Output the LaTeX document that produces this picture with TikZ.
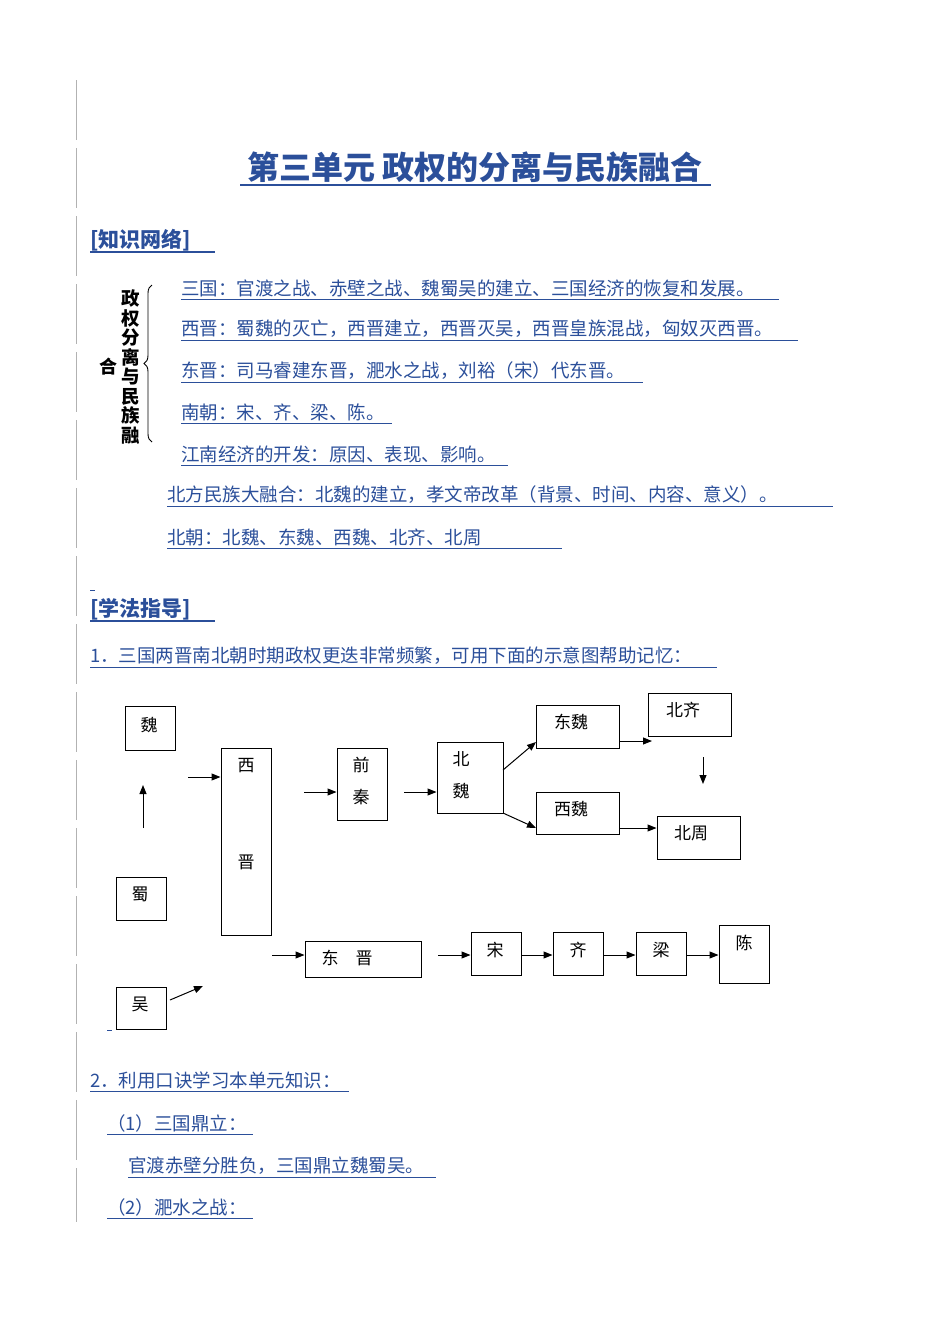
\documentclass[tikz,border=0pt]{standalone}
\usepackage{fontspec}
\newfontfamily\cjk{Noto Sans CJK SC}
\usetikzlibrary{decorations.pathreplacing,arrows.meta}
\definecolor{lb}{HTML}{2B4F9A}
\begin{document}
\begin{tikzpicture}[x=1pt,y=-1pt,
 bx/.style={draw,line width=1pt,font=\cjk\fontsize{17}{17}\selectfont},
 ar/.style={-{Triangle[length=9pt,width=7pt]},line width=1pt},
 tx/.style={anchor=west,inner sep=0,text=lb,font=\cjk\fontsize{18.5}{19}\selectfont},
 ul/.style={lb,line width=0.8pt}]
\useasboundingbox (0,0) rectangle (950,1342);
\draw[gray!60,dashed,dash pattern=on 60pt off 8pt] (76,80) -- (76,1222);
% title
\node[inner sep=0,text=lb,font=\cjk\bfseries\fontsize{32}{32}\selectfont] (t) at (475,167) {第三单元 政权的分离与民族融合};
\draw[ul,line width=1.2pt] (240,185) -- (711,185);
\node[tx,font=\cjk\bfseries\fontsize{21}{21}\selectfont] (h1) at (90,240) {[知识网络]};
\draw[ul,line width=1.2pt] (90,252) -- (215,252);
\foreach \y/\x/\e/\s in {288/181/779/三国：官渡之战、赤壁之战、魏蜀吴的建立、三国经济的恢复和发展。,
 329/181/798/西晋：蜀魏的灭亡，西晋建立，西晋灭吴，西晋皇族混战，匈奴灭西晋。,
 371/181/643/东晋：司马睿建东晋，淝水之战，刘裕（宋）代东晋。,
 412/181/392/南朝：宋、齐、梁、陈。,
 454/181/508/江南经济的开发：原因、表现、影响。,
 495/167/833/北方民族大融合：北魏的建立，孝文帝改革（背景、时间、内容、意义）。,
 537/167/562/北朝：北魏、东魏、西魏、北齐、北周,
 656/90/717/1．三国两晋南北朝时期政权更迭非常频繁，可用下面的示意图帮助记忆：,
 1080/90/349/2．利用口诀学习本单元知识：,
 1123/107/253/（1）三国鼎立：,
 1166/128/436/官渡赤壁分胜负，三国鼎立魏蜀吴。,
 1207/107/253/（2）淝水之战：}
 {\node[tx] at (\x,\y) {\s}; \draw[ul] (\x,\y+11) -- (\e,\y+11);}
\node[inner sep=0,align=center,font=\cjk\bfseries\fontsize{18.5}{19.5}\selectfont] (v) at (131,367) {政\\权\\分\\离\\与\\民\\族\\融};
\node[inner sep=0,font=\cjk\bfseries\fontsize{18}{18}\selectfont] (he) at (108,367) {合};
\draw[line width=0.9pt,decorate,decoration={brace,amplitude=8pt}] (152,442) -- (152,285);
\draw[ul] (90,590) -- (95,590);
\node[tx,font=\cjk\bfseries\fontsize{21}{21}\selectfont] (h2) at (90,609) {[学法指导]};
\draw[ul,line width=1.2pt] (90,621) -- (215,621);
\draw[ul] (107,1030) -- (112,1030);
% boxes
\newcommand\bxx[6]{\node[bx,minimum width=#3-#2,minimum height=#5-#4,inner sep=0] (#1) at ({(#2+#3)/2},{(#4+#5)/2}) {}; \node[font=\cjk\fontsize{17}{17}\selectfont,inner sep=0] at #6;}
\bxx{wei}{125}{175}{706}{750}{(149,725) {魏}}
\bxx{xj}{221}{271}{748}{935}{(246,766) {西}}
\node[font=\cjk\fontsize{17}{17}\selectfont,inner sep=0] at (246,862) {晋};
\bxx{qq}{337}{387}{748}{820}{(361,765) {前}}
\node[font=\cjk\fontsize{17}{17}\selectfont,inner sep=0] at (361,797) {秦};
\bxx{bw}{437}{503}{742}{813}{(461,759) {北}}
\node[font=\cjk\fontsize{17}{17}\selectfont,inner sep=0] at (461,791) {魏};
\bxx{dw}{536}{619}{705}{748}{(571,722) {东魏}}
\bxx{bq}{648}{731}{693}{736}{(683,710) {北齐}}
\bxx{xw}{536}{619}{792}{834}{(571,809) {西魏}}
\bxx{bz}{657}{740}{816}{859}{(691,833) {北周}}
\bxx{shu}{116}{166}{877}{920}{(140,894) {蜀}}
\bxx{wu}{116}{166}{987}{1029}{(140,1004) {吴}}
\bxx{dj}{305}{421}{941}{977}{(347,958) {东\quad 晋}}
\bxx{song}{471}{521}{932}{975}{(495,950) {宋}}
\bxx{qi}{553}{603}{932}{975}{(578,950) {齐}}
\bxx{liang}{636}{686}{932}{975}{(661,950) {梁}}
\bxx{chen}{719}{769}{925}{983}{(744,943) {陈}}
% arrows
\coordinate (a1) at (143,828); \coordinate (a1e) at (143,785);
\draw[ar] (a1) -- (a1e);
\coordinate (a2) at (188,777); \draw[ar] (a2) -- (xj.west|-a2);
\coordinate (a3) at (304,792); \draw[ar] (a3) -- (qq.west|-a3);
\coordinate (a4) at (404,792); \draw[ar] (a4) -- (bw.west|-a4);
\draw[ar] (503,770) -- (536,742);
\draw[ar] (503,813) -- (536,828);
\coordinate (a5) at (619,741); \draw[ar] (a5) -- (652,741);
\coordinate (a6) at (703,757); \draw[ar] (a6) -- (703,784);
\coordinate (a7) at (619,828); \draw[ar] (a7) -- (bz.west|-a7);
\coordinate (a8) at (272,955); \draw[ar] (a8) -- (dj.west|-a8);
\coordinate (a9) at (170,1000); \draw[ar] (a9) -- (203,986);
\coordinate (b1) at (438,955); \draw[ar] (b1) -- (song.west|-b1);
\draw[ar] (song.east|-b1) -- (qi.west|-b1);
\draw[ar] (qi.east|-b1) -- (liang.west|-b1);
\draw[ar] (liang.east|-b1) -- (chen.west|-b1);
\end{tikzpicture}
\end{document}
